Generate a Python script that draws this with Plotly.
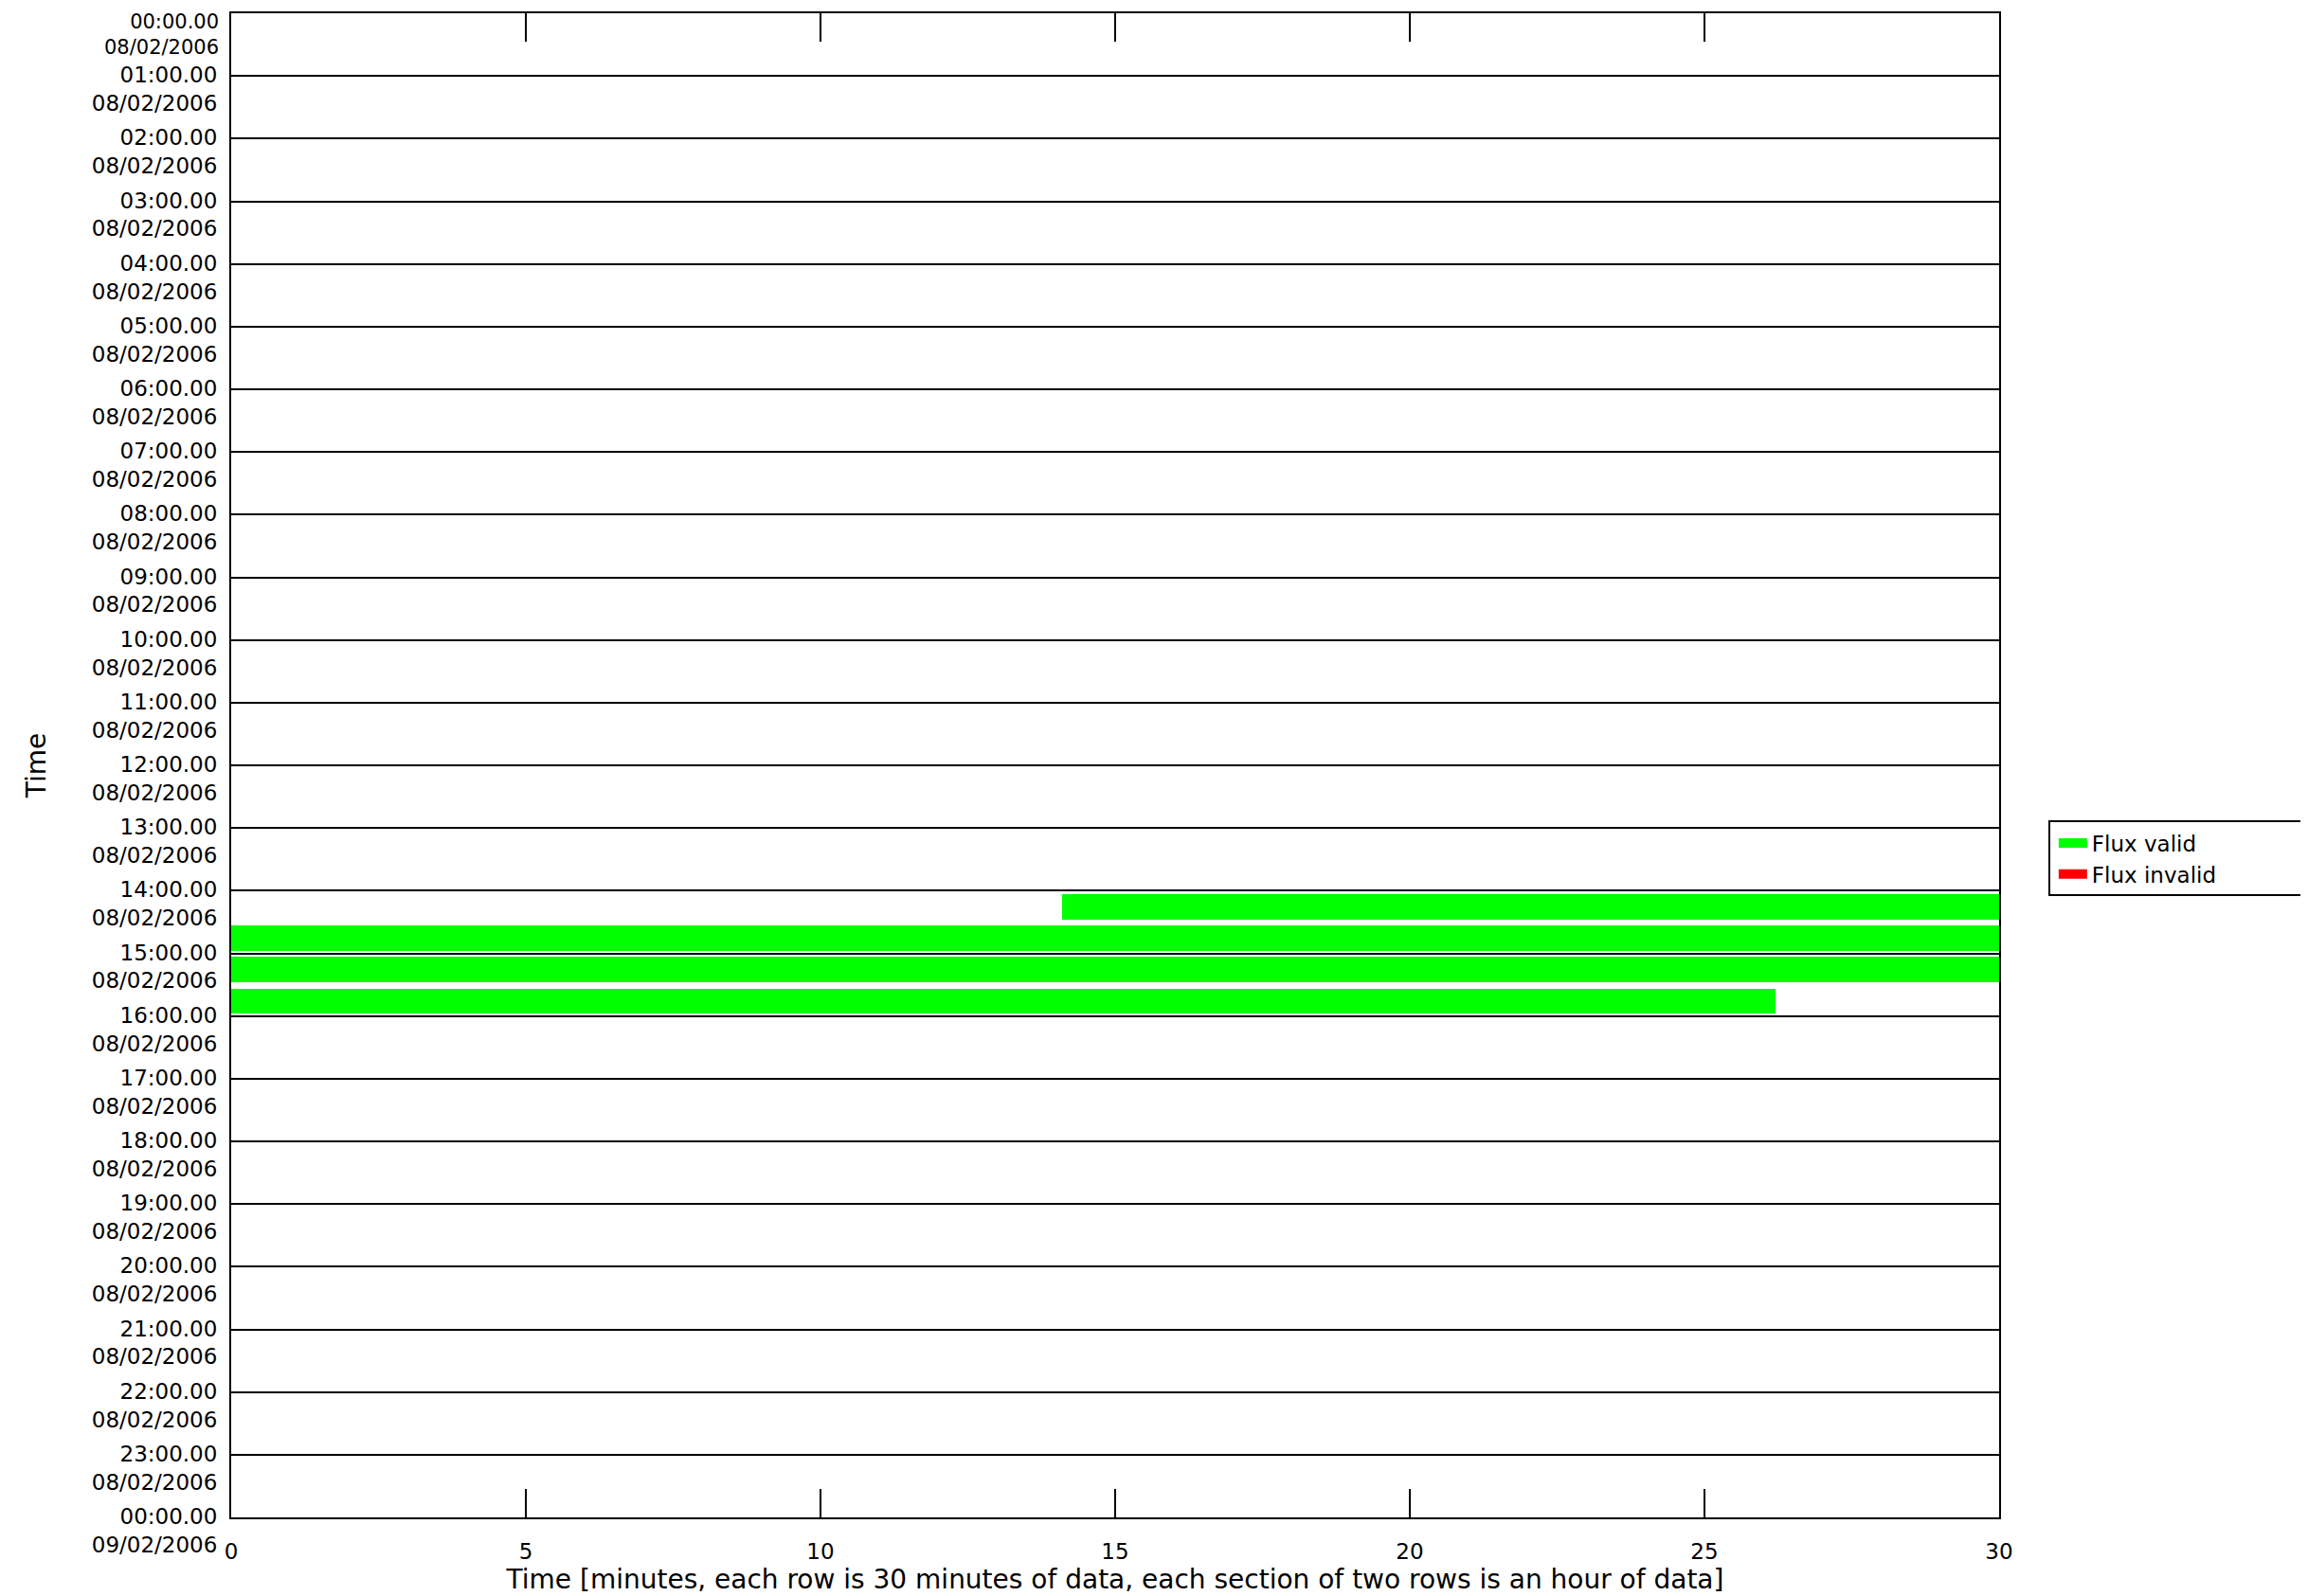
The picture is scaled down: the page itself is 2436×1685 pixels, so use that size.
import plotly.graph_objects as go

# rows are half-hours: start of the row in hours of the day
row_start_hours = [14.0, 14.5, 15.0, 15.5]
valid_start_min = [14.1, 0.0, 0.0, 0.0]
valid_end_min = [30.0, 30.0, 30.0, 26.2]

hour_ticks = list(range(0, 25))
hour_labels = [f"{h:02d}:00.00<br>08/02/2006" for h in range(24)] + ["00:00.00<br>09/02/2006"]
minute_ticks = [0, 5, 10, 15, 20, 25, 30]

FONT = "DejaVu Sans"

row_centres = [h + 0.26 for h in row_start_hours]
lengths = [e - s for s, e in zip(valid_start_min, valid_end_min)]

fig = go.Figure()
fig.add_trace(
    go.Bar(
        y=row_centres,
        x=lengths,
        base=valid_start_min,
        orientation="h",
        width=0.4,
        marker=dict(color="#00ff00", line=dict(width=0)),
        showlegend=False,
    )
)
# legend entries
fig.add_trace(
    go.Scatter(x=[None], y=[None], mode="lines", name="Flux valid",
               line=dict(color="#00ff00", width=11))
)
fig.add_trace(
    go.Scatter(x=[None], y=[None], mode="lines", name="Flux invalid",
               line=dict(color="#ff0000", width=11))
)

# first label sits under the top edge instead of centred on it
tick_text = [""] + hour_labels[1:]

# the page body has an 8px margin, margins below compensate for it
fig.update_layout(
    width=2436,
    height=1685,
    margin=dict(l=236, r=334, t=6, b=91),
    paper_bgcolor="white",
    plot_bgcolor="white",
    font=dict(family=FONT, size=23, color="black"),
    bargap=0,
    legend=dict(
        x=1.031, y=0.438, xanchor="left", yanchor="middle",
        borderwidth=0,
        font=dict(size=23),
        itemwidth=30,
        tracegroupgap=0,
    ),
    xaxis=dict(
        range=[0, 30],
        tickvals=minute_ticks,
        ticks="inside",
        ticklen=30,
        tickwidth=2,
        tickcolor="black",
        showline=True,
        linecolor="black",
        linewidth=2,
        mirror="ticks",
        showgrid=False,
        zeroline=False,
        automargin=False,
        ticklabelstandoff=14,
        title=dict(text="Time [minutes, each row is 30 minutes of data, each section of two rows is an hour of data]",
                   standoff=6),
    ),
    yaxis=dict(
        range=[24, 0],
        tickvals=hour_ticks,
        ticktext=tick_text,
        ticks="",
        showline=True,
        linecolor="black",
        linewidth=2,
        mirror=True,
        showgrid=True,
        gridcolor="black",
        gridwidth=2,
        zeroline=False,
        automargin=False,
        ticklabeloverflow="allow",
        ticklabelshift=-14,
        ticklabelstandoff=8,
        title=dict(text="Time", standoff=40),
    ),
)

fig.add_annotation(
    x=0, xref="paper", xanchor="right", xshift=-12,
    y=hour_ticks[0], yref="y", yanchor="top", yshift=4,
    text=hour_labels[0], showarrow=False, align="right",
    borderpad=0,
    font=dict(family=FONT, size=21, color="black"),
)

# legend frame runs off the right edge of the page, as in the original
fig.add_shape(
    type="rect", xref="paper", yref="paper",
    x0=1.0284, x1=1.2, y0=0.4137, y1=0.4628,
    line=dict(color="black", width=2), fillcolor="rgba(0,0,0,0)",
    layer="below",
)

fig.write_html("out.html")
